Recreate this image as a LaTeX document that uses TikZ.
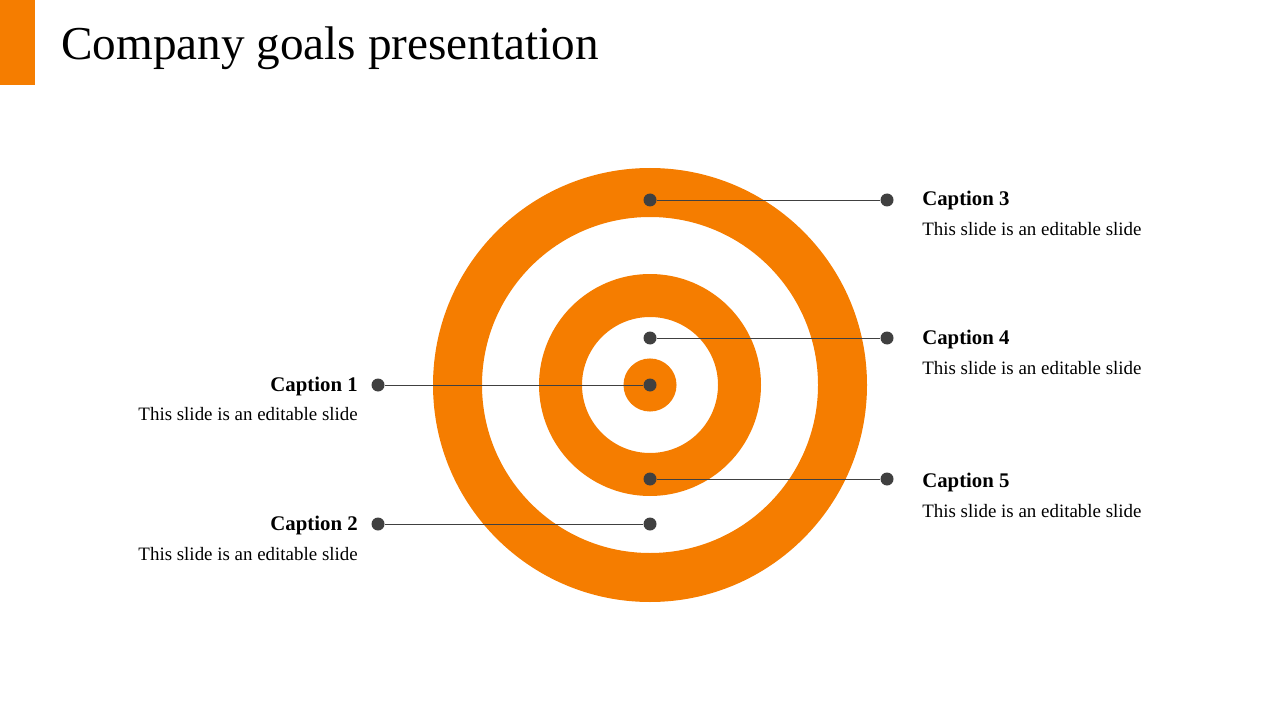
\documentclass[tikz,border=0pt]{standalone}
\usepackage{fontspec}
\setmainfont{Liberation Serif}
\usepackage{xcolor}
\usepackage{tikz}
\usetikzlibrary{positioning}

\definecolor{goalorange}{RGB}{245,125,0}
\definecolor{dotgray}{RGB}{64,64,64}

\begin{document}
\begin{tikzpicture}[
    x=0.75pt, y=-0.75pt,
    dot/.style={circle, fill=dotgray, minimum size=9.75pt, inner sep=0pt},
    link/.style={draw=dotgray, line width=0.6pt},
    capname/.style={font=\fontsize{15.6}{18}\selectfont\bfseries, inner sep=0pt},
    captext/.style={font=\fontsize{14.2}{17}\selectfont, inner sep=0pt},
    title/.style={font=\fontsize{35.4}{42}\selectfont, inner sep=0pt, anchor=base west}
  ]
  \useasboundingbox (0,0) rectangle (1280,720);

  %% ── header ──────────────────────────────────────────────────────────
  \fill[goalorange] (0,0) rectangle (35,85);
  \node[title] (head) at (61,60) {Company goals presentation};

  %% ── target rings (centre at 650,385) ────────────────────────────────
  \fill[goalorange, even odd rule] (650,385) circle[radius=162.75pt] circle[radius=126pt];
  \fill[goalorange, even odd rule] (650,385) circle[radius=83.25pt] circle[radius=51pt];
  \fill[goalorange] (650,385) circle[radius=19.9pt];

  %% ── left captions ───────────────────────────────────────────────────
  \node[dot] (l1) at (378,385) {};
  \node[dot] (t1) at (650,385) {};
  \draw[link] (l1)--(t1);
  \node[capname, anchor=base east] (n1) at (358,391) {Caption 1};
  \node[captext, anchor=base east] (d1) at (358,420) {This slide is an editable slide};

  \node[dot] (l2) at (378,524) {};
  \node[dot] (t2) at (650,524) {};
  \draw[link] (l2)--(t2);
  \node[capname, anchor=base east] (n2) at (358,530) {Caption 2};
  \node[captext, anchor=base east] (d2) at (358,560) {This slide is an editable slide};

  %% ── right captions ──────────────────────────────────────────────────
  \node[dot] (t3) at (650,200) {};
  \node[dot] (r3) at (887,200) {};
  \draw[link] (t3)--(r3);
  \node[capname, anchor=base west] (n3) at (922,206) {Caption 3};
  \node[captext, anchor=base west] (d3) at (922,236) {This slide is an editable slide};

  \node[dot] (t4) at (650,338) {};
  \node[dot] (r4) at (887,338) {};
  \draw[link] (t4)--(r4);
  \node[capname, anchor=base west] (n4) at (922,344) {Caption 4};
  \node[captext, anchor=base west] (d4) at (922,374) {This slide is an editable slide};

  \node[dot] (t5) at (650,479) {};
  \node[dot] (r5) at (887,479) {};
  \draw[link] (t5)--(r5);
  \node[capname, anchor=base west] (n5) at (922,487) {Caption 5};
  \node[captext, anchor=base west] (d5) at (922,517) {This slide is an editable slide};

\end{tikzpicture}
\end{document}
